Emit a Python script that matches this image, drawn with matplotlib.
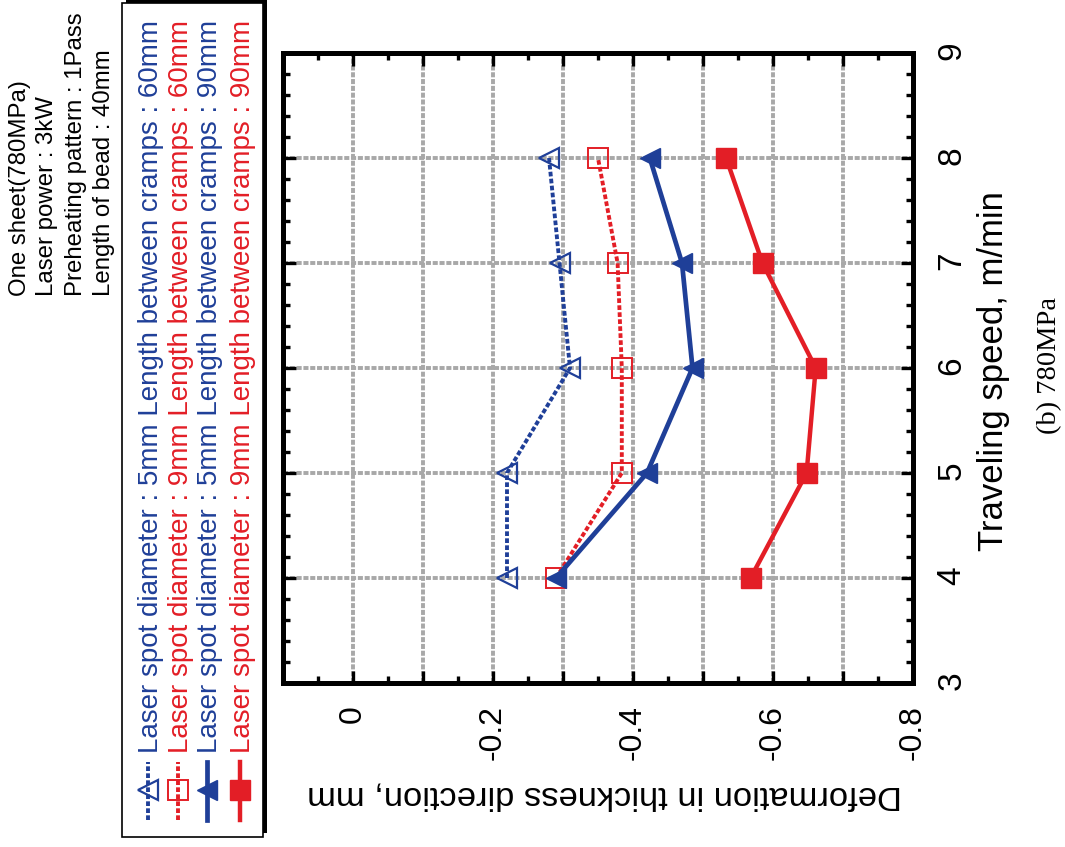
import matplotlib
matplotlib.use("Agg")
import matplotlib.pyplot as plt
from matplotlib.lines import Line2D
from matplotlib.patches import Rectangle
from matplotlib.ticker import MultipleLocator, FuncFormatter

plt.rcParams['font.family'] = ['Liberation Sans', 'DejaVu Sans']

# Traveling speed (m/min) and deformation in thickness direction (mm)
speeds = [4, 5, 6, 7, 8]
defo_5mm_60mm = [-0.22, -0.22, -0.31, -0.295, -0.28]
defo_9mm_60mm = [-0.29, -0.384, -0.384, -0.378, -0.35]
defo_5mm_90mm = [-0.29, -0.42, -0.485, -0.47, -0.424]
defo_9mm_90mm = [-0.568, -0.648, -0.661, -0.585, -0.533]

series_labels = [
    "Laser spot diameter : 5mm Length between cramps : 60mm",
    "Laser spot diameter : 9mm Length between cramps : 60mm",
    "Laser spot diameter : 5mm Length between cramps : 90mm",
    "Laser spot diameter : 9mm Length between cramps : 90mm",
]
notes = ["One sheet(780MPa)", "Laser power : 3kW",
         "Preheating pattern : 1Pass", "Length of bead : 40mm"]
defo_ticks = [0.0, -0.2, -0.4, -0.6, -0.8]
defo_tick_labels = ["0", "-0.2", "-0.4", "-0.6", "-0.8"]
speed_ticks = [3, 4, 5, 6, 7, 8, 9]
speed_tick_labels = ["3", "4", "5", "6", "7", "8", "9"]

BLUE = "#1f3f98"
RED = "#e31e26"
DOT = (0, (1.2, 0.6))

W, H = 1065, 847
fig = plt.figure(figsize=(W / 100, H / 100), dpi=100)


def fx(px):
    return px / W


def fy(py):
    return 1 - py / H


ax = fig.add_axes([fx(283), fy(683), fx(913) - fx(283), fy(53) - fy(683)])
ax.set_xlim(0.1, -0.8)
ax.set_ylim(3, 9)

ax.xaxis.set_major_locator(MultipleLocator(0.1))
ax.xaxis.set_minor_locator(MultipleLocator(0.05))


def defo_fmt(v, pos):
    for t, lab in zip(defo_ticks, defo_tick_labels):
        if abs(v - t) < 1e-6:
            return lab
    return ""


ax.xaxis.set_major_formatter(FuncFormatter(defo_fmt))
ax.set_yticks(speed_ticks, speed_tick_labels)
ax.yaxis.set_minor_locator(MultipleLocator(0.2))

ax.tick_params(which='both', direction='in', top=True, bottom=True,
               left=True, right=True, labelleft=False, labelright=True,
               width=2.4, color='black')
ax.tick_params(which='major', length=9)
ax.tick_params(which='minor', length=5)
ax.tick_params(axis='x', labelsize=23, pad=16, labelrotation=90)
ax.tick_params(axis='y', labelsize=24, pad=17, labelrotation=90)

for sp in ax.spines.values():
    sp.set_linewidth(3.6)
    sp.set_color('black')

ax.set_axisbelow(True)
ax.grid(True, which='major', color='#a8a8a8', lw=2.8, linestyle=(0, (1.3, 0.45)))

styles = [
    dict(color=BLUE, lw=2.8, ls=DOT, marker='<', ms=14.5, mfc='none', mec=BLUE, mew=1.6),
    dict(color=RED, lw=2.8, ls=DOT, marker='s', ms=14.5, mfc='none', mec=RED, mew=1.4),
    dict(color=BLUE, lw=3.4, ls='-', marker='<', ms=15, mfc=BLUE, mec=BLUE, mew=1.0),
    dict(color=RED, lw=3.2, ls='-', marker='s', ms=15, mfc=RED, mec=RED, mew=1.0),
]
series = [defo_5mm_60mm, defo_9mm_60mm, defo_5mm_90mm, defo_9mm_90mm]
for vals, st in zip(series, styles):
    ax.plot(vals, speeds, **st, clip_on=False)

# Axis titles and caption
fig.text(fx(993), fy(371), "Traveling speed, m/min", rotation=90,
         fontsize=25, ha='center', va='center')
fig.text(fx(605), fy(795), "Deformation in thickness direction, mm",
         rotation=180, fontsize=24.8, ha='center', va='center')
fig.text(fx(1050), fy(366), "(b) 780MPa", rotation=90,
         family=['Liberation Serif', 'DejaVu Serif'], fontsize=20.5,
         ha='center', va='center')

# Condition notes
note_x = [26, 53, 82, 110]
for xb, t in zip(note_x, notes):
    fig.text(fx(xb), fy(296), t, rotation=90, rotation_mode='anchor',
             ha='left', va='baseline', fontsize=17.3)

# Legend box with drop shadow
fig.add_artist(Rectangle((fx(126), fy(833)), fx(267) - fx(126), fy(-1) - fy(833),
                         transform=fig.transFigure, facecolor='black',
                         edgecolor='none', zorder=1))
fig.add_artist(Rectangle((fx(122), fy(837)), fx(263) - fx(122), fy(3) - fy(837),
                         transform=fig.transFigure, facecolor='white',
                         edgecolor='black', lw=1.2, zorder=2))

legend_base = [158, 188, 217, 250]
text_colors = [BLUE, RED, BLUE, RED]
for xb, lab, st, tc in zip(legend_base, series_labels, styles, text_colors):
    hx = fx(xb - 10)
    fig.add_artist(Line2D([hx, hx, hx], [fy(820), fy(790), fy(762)],
                          transform=fig.transFigure, markevery=[1],
                          zorder=3, **st))
    fig.text(fx(xb), fy(753), lab, rotation=90, rotation_mode='anchor',
             ha='left', va='baseline', fontsize=20, color=tc, zorder=3)

fig.savefig("out.png", dpi=100)
